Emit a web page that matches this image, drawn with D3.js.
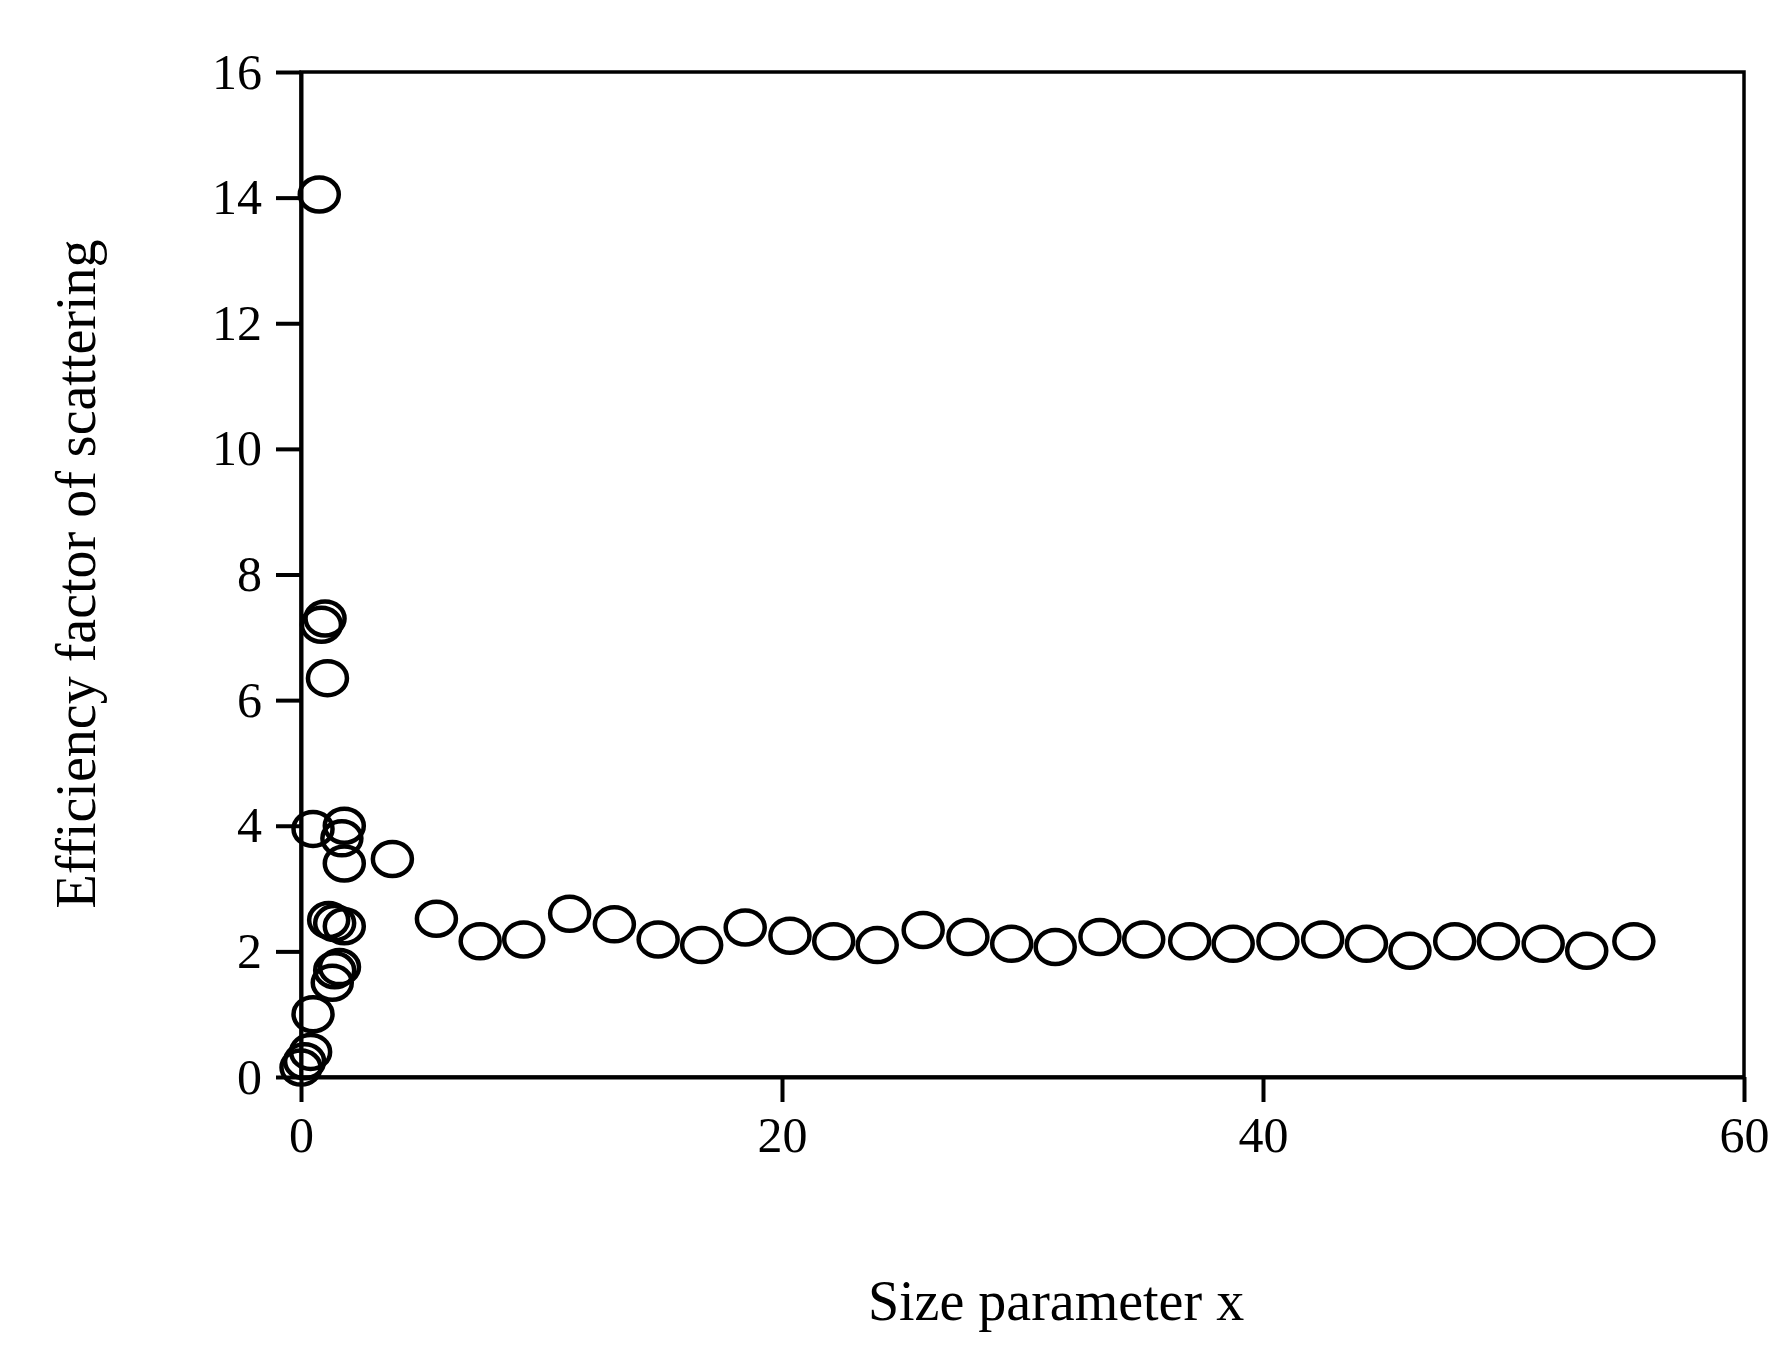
<!DOCTYPE html>
<html><head><meta charset="utf-8">
<script src="https://cdn.jsdelivr.net/npm/d3@7"></script>
<style>body{margin:0;background:#fff}</style></head>
<body><svg id="c" width="1791" height="1345"></svg>
<script>
const xVals=[0.76,0.85,1.0,1.1,0.5,1.8,1.7,1.8,3.8,1.15,1.4,1.8,1.4,1.6,1.3,0.5,0.15,0.4,0.0,
5.63,7.45,9.26,11.17,13.03,14.85,16.66,18.47,20.33,22.15,23.96,25.87,27.73,29.55,31.36,33.22,35.04,36.95,38.76,40.62,42.48,44.30,46.11,47.97,49.79,51.65,53.46,55.42];
const yVals=[14.05,7.2,7.3,6.35,3.95,4.0,3.8,3.4,3.47,2.5,2.45,2.4,1.7,1.75,1.5,1.0,0.25,0.4,0.15,
2.52,2.16,2.19,2.60,2.43,2.19,2.10,2.38,2.25,2.16,2.10,2.34,2.23,2.12,2.07,2.23,2.19,2.16,2.12,2.16,2.19,2.12,2.01,2.16,2.16,2.12,2.01,2.16];
const xTicks=[0,20,40,60], yTicks=[0,2,4,6,8,10,12,14,16];
const L=301,R=1744,T=72,B=1077;
const svg=d3.select("#c");
const x=d3.scaleLinear().domain([0,60]).range([L,R]);
const y=d3.scaleLinear().domain([0,16]).range([B,T]);
const font="'Liberation Serif','Times New Roman',serif";
svg.append("rect").attr("x",L).attr("y",T).attr("width",R-L).attr("height",B-T).attr("fill","none").attr("stroke","#000").attr("stroke-width",3.5);
const gx=svg.append("g").attr("transform",`translate(0,${B})`).call(d3.axisBottom(x).tickValues(xTicks).tickSize(25).tickPadding(14).tickSizeOuter(0));
const gy=svg.append("g").attr("transform",`translate(${L},0)`).call(d3.axisLeft(y).tickValues(yTicks).tickSize(25).tickPadding(14).tickSizeOuter(0));
[gx,gy].forEach(g=>{g.select(".domain").attr("stroke-width",4);g.selectAll("line").attr("stroke-width",4);
g.selectAll("text").attr("font-family",font).attr("font-size",50).attr("fill","#000");});
svg.append("g").selectAll("ellipse").data(xVals.map((v,i)=>[v,yVals[i]])).join("ellipse")
.attr("cx",d=>x(d[0])).attr("cy",d=>y(d[1])).attr("rx",19.5).attr("ry",17)
.attr("fill","none").attr("stroke","#000").attr("stroke-width",4.5);
svg.append("text").attr("x",1056).attr("y",1320).attr("text-anchor","middle").attr("font-family",font).attr("font-size",56).text("Size parameter  x");
svg.append("text").attr("transform","translate(95,574) rotate(-90)").attr("text-anchor","middle").attr("font-family",font).attr("font-size",56).text("Efficiency  factor  of  scattering");
</script></body></html>
